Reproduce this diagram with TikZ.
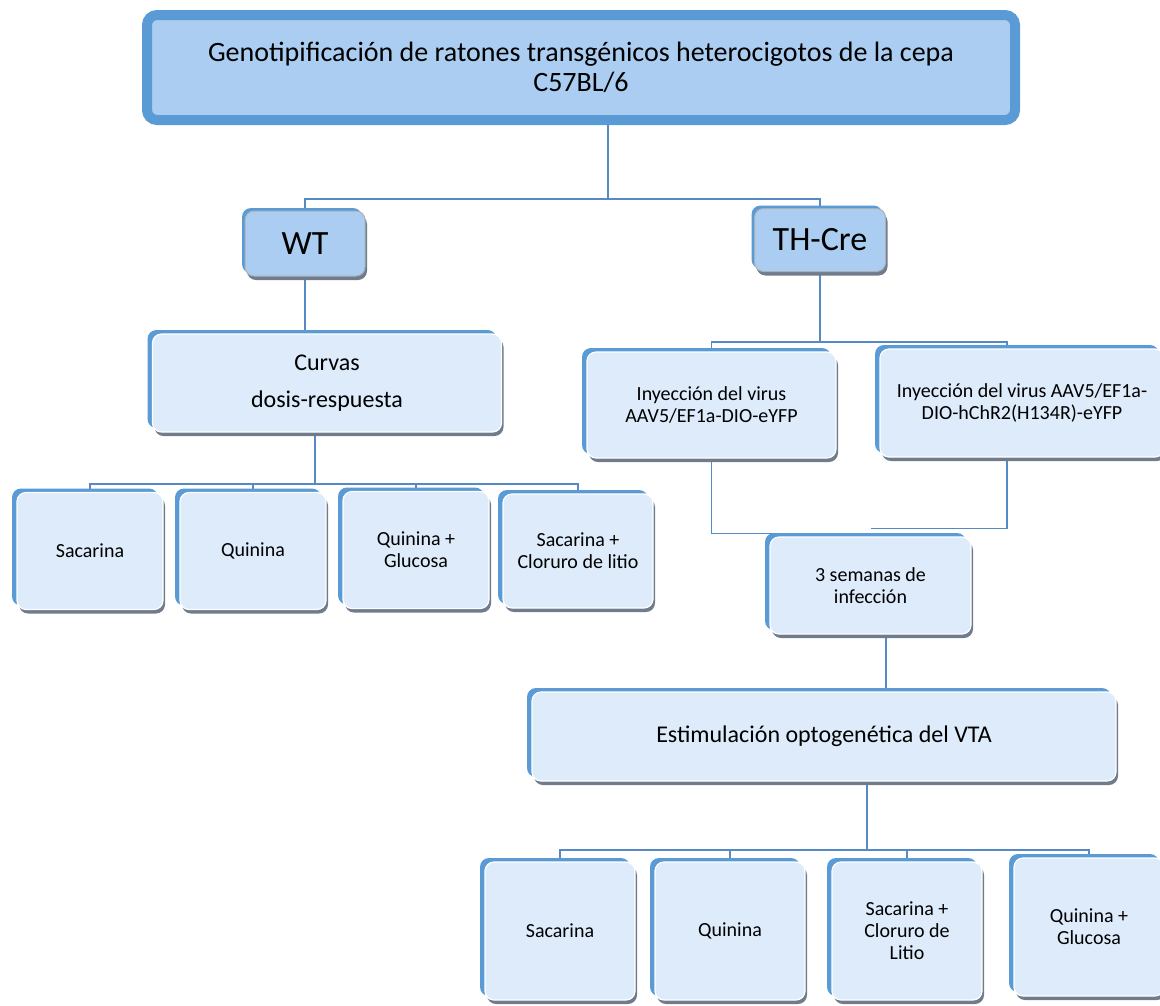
\documentclass[tikz,border=0pt]{standalone}
\usepackage{fontspec}
\setmainfont{Carlito}
\usetikzlibrary{shadows,backgrounds}
\definecolor{frameblue}{RGB}{91,155,213}
\definecolor{topfill}{RGB}{170,205,241}
\definecolor{boxfill}{RGB}{221,235,251}
\definecolor{bevel}{RGB}{112,124,140}
\definecolor{linkblue}{RGB}{86,137,198}
\begin{document}
\begin{tikzpicture}[x=1pt,y=-1pt,
every node/.style={rectangle,rounded corners=9pt,align=center,inner sep=0pt},
box/.style={fill=boxfill,draw=white,line width=1.2pt,font=\fontsize{20}{22}\selectfont,
  general shadow={fill=frameblue,shadow xshift=-5pt,shadow yshift=4pt},
  general shadow={fill=bevel,shadow xshift=2pt,shadow yshift=-4pt}},
geno/.style={fill=topfill,draw=bevel!60!white,line width=1pt,font=\fontsize{34}{38}\selectfont,
  general shadow={fill=frameblue,shadow xshift=-3pt,shadow yshift=3pt},
  general shadow={fill=bevel,shadow xshift=2pt,shadow yshift=-4pt}},
link/.style={draw=linkblue,line width=1.6pt}]
\useasboundingbox (0,0) rectangle (1160,1005);
% top
\node[fill=topfill,draw=frameblue,line width=10pt,rounded corners=10pt,
  minimum width=868pt,minimum height=105pt,font=\fontsize{28}{30}\selectfont] (G) at (581,67.5)
  {Genotipificación de ratones transgénicos heterocigotos de la cepa\\C57BL/6};
\node[geno,minimum width=120pt,minimum height=65pt] (WT) at (305,243.5) {WT};
\node[geno,minimum width=131pt,minimum height=63pt] (TH) at (820,240) {TH-Cre};
% WT side
\node[box,minimum width=349pt,minimum height=98pt,font=\fontsize{24}{37}\selectfont] (CD) at (327,383) {Curvas\\dosis-respuesta};
\node[box,minimum width=146pt,minimum height=117pt] (S1) at (90,551) {Sacarina};
\node[box,minimum width=146pt,minimum height=117pt] (Q1) at (253,551) {Quinina};
\node[box,minimum width=146pt,minimum height=117pt] (QG1) at (416,550) {Quinina +\\Glucosa};
\node[box,minimum width=150pt,minimum height=114pt] (SL1) at (578,551) {Sacarina +\\Cloruro de litio};
% TH-Cre side
\node[box,minimum width=249pt,minimum height=106pt] (I1) at (711.5,405) {Inyección del virus\\AAV5/EF1a-DIO-eYFP};
\node[box,minimum width=284pt,minimum height=108pt] (I2) at (1022,403) {Inyección del virus AAV5/EF1a-\\DIO-hChR2(H134R)-eYFP};
\node[box,minimum width=201pt,minimum height=97pt] (SW) at (870.5,585.5) {3 semanas de\\infección};
\node[box,minimum width=584pt,minimum height=89pt,font=\fontsize{24}{28}\selectfont] (E) at (824,736.5) {Estimulación optogenética del VTA};
\node[box,minimum width=150pt,minimum height=138pt] (S2) at (560,931) {Sacarina};
\node[box,minimum width=150pt,minimum height=138pt] (Q2) at (730,931) {Quinina};
\node[box,minimum width=150pt,minimum height=138pt] (SL2) at (907,931) {Sacarina +\\Cloruro de\\Litio};
\node[box,minimum width=150pt,minimum height=138pt] (QG2) at (1089,927) {Quinina +\\Glucosa};
% connectors
\begin{scope}[on background layer]
\coordinate (b1) at (608,199);
\coordinate (b2) at (315,484);
\coordinate (b3) at (820,342);
\coordinate (b5) at (886,640);
\coordinate (b6) at (867,850);
\draw[link] (b1 |- G) -- (b1);
\draw[link] (WT) |- (b1) -| (TH);
\draw[link] (WT) -- (WT |- CD);
\draw[link] (b2 |- CD) -- (b2);
\draw[link] (S1) |- (b2) -| (SL1);
\draw[link] (Q1) -- (Q1 |- b2);
\draw[link] (QG1) -- (QG1 |- b2);
\draw[link] (TH) -- (b3);
\draw[link] (I1) |- (b3) -| ([xshift=-15pt]I2.center);
\draw[link] (I1) |- ([yshift=3pt]SW.north);
\draw[link] ([xshift=-15pt]I2.center) |- ([yshift=8pt]SW.north);
\draw[link] (b5 |- SW) -- (b5 |- E);
\draw[link] (b6 |- E) -- (b6);
\draw[link] (S2) |- (b6) -| (QG2);
\draw[link] (Q2) -- (Q2 |- b6);
\draw[link] (SL2) -- (SL2 |- b6);
\end{scope}
\end{tikzpicture}
\end{document}
